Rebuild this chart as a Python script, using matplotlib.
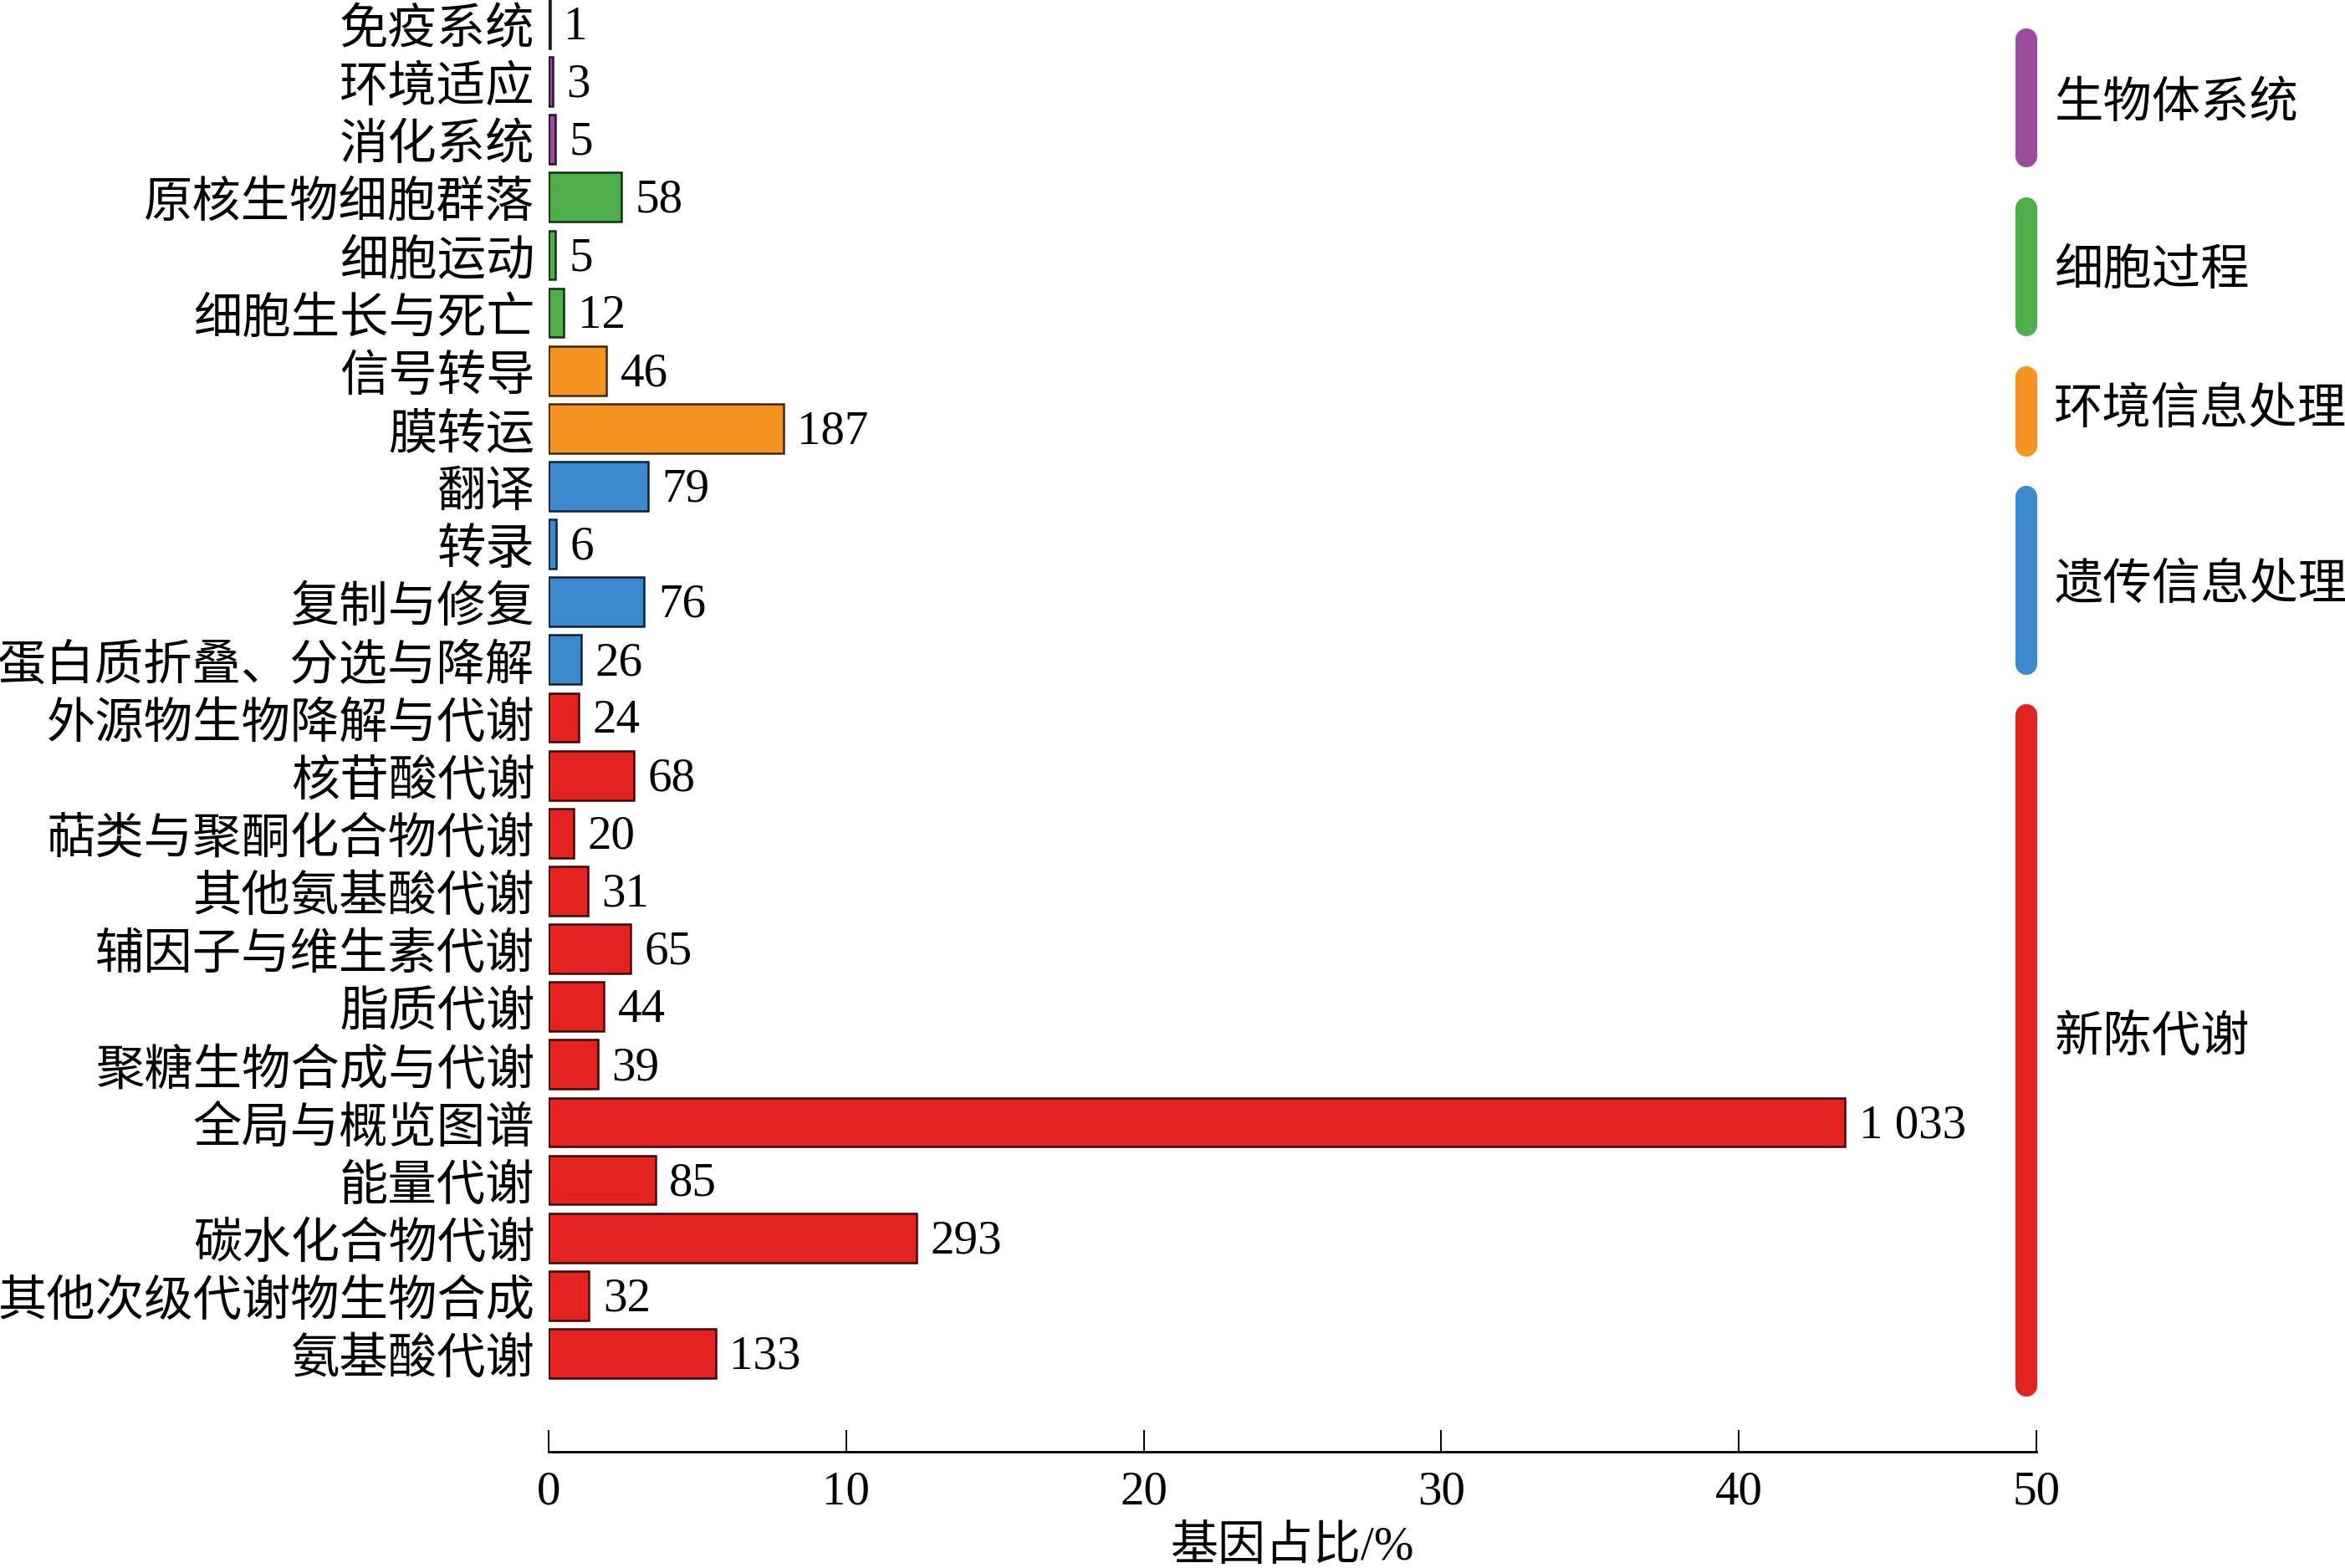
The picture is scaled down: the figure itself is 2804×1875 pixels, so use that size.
import numpy as np
import matplotlib
matplotlib.use("Agg")
import matplotlib.pyplot as plt
import matplotlib.colors as mcolors

plt.rcParams["font.family"] = ["Liberation Serif", "Noto Sans CJK SC"]

categories = ["免疫系统", "环境适应", "消化系统", "原核生物细胞群落", "细胞运动",
              "细胞生长与死亡", "信号转导", "膜转运", "翻译", "转录", "复制与修复",
              "蛋白质折叠、分选与降解", "外源物生物降解与代谢", "核苷酸代谢",
              "萜类与聚酮化合物代谢", "其他氨基酸代谢", "辅因子与维生素代谢", "脂质代谢",
              "聚糖生物合成与代谢", "全局与概览图谱", "能量代谢", "碳水化合物代谢",
              "其他次级代谢物生物合成", "氨基酸代谢"]
counts = np.array([1, 3, 5, 58, 5, 12, 46, 187, 79, 6, 76, 26, 24, 68, 20, 31,
                   65, 44, 39, 1033, 85, 293, 32, 133])
group_names = ["生物体系统", "细胞过程", "环境信息处理", "遗传信息处理", "新陈代谢"]
group_sizes = [3, 3, 2, 4, 12]
group_colors = ["#9A4D9F", "#4CAF4A", "#F39420", "#3C89D0", "#E3231F"]

# bracket extents (in bar-row units) and label rows, as drawn in the original
bracket_spans = [(0.08, 2.48), (3.0, 5.41), (5.92, 7.48), (7.99, 11.26), (11.77, 23.75)]
label_rows = [1.37, 4.27, 6.67, 9.7, 17.54]

pct = counts / counts.sum() * 100

bar_colors = []
for c, n in zip(group_colors, group_sizes):
    bar_colors += [c] * n
edge_colors = [tuple(0.25 * np.array(mcolors.to_rgb(c))) for c in bar_colors]

fig = plt.figure(figsize=(14.02, 9.375), dpi=200)
ax = fig.add_axes([0.234, 0.0741, 0.6344, 0.9259])

y = np.arange(len(categories))
ax.barh(y, pct, height=0.85, color=bar_colors, edgecolor=edge_colors, linewidth=0.9)

for yi, p, n in zip(y, pct, counts):
    s = f"{n:,}".replace(",", " ")
    ax.annotate(s, (p, yi), xytext=(6, -1.5), textcoords="offset points",
                ha="left", va="center", fontsize=20.5)

ax.set_ylim(24.7, -0.41)
ax.set_xlim(0, 50)
ax.set_yticks(y)
ax.set_yticklabels(categories, fontsize=21, family=["Noto Sans CJK SC"])
ax.tick_params(axis="y", length=0, pad=6)
ax.set_xticks([0, 10, 20, 30, 40, 50])
ax.tick_params(axis="x", direction="in", length=9.5, width=0.7, pad=8, labelsize=20.5)
for s in ["left", "right", "top"]:
    ax.spines[s].set_visible(False)
ax.spines["bottom"].set_linewidth(1.0)
ax.set_xlabel("基因占比/%", fontsize=20.5, labelpad=5)

# group brackets on the right
cap = 0.188
for name, (a, b), ly, c in zip(group_names, bracket_spans, label_rows, group_colors):
    ax.plot([49.66, 49.66], [a + cap, b - cap], color=c, lw=9.4,
            solid_capstyle="round", clip_on=False)
    ax.text(50.6, ly, name, ha="left", va="center",
            fontsize=21, family=["Noto Sans CJK SC"], clip_on=False)

fig.savefig("out.png", dpi=200)
